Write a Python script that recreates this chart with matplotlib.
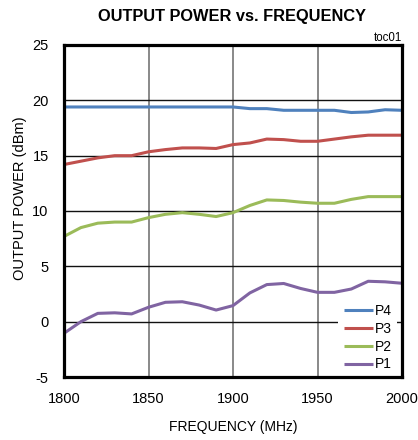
import matplotlib
matplotlib.use("Agg")
import matplotlib.pyplot as plt

freq = [1800, 1810, 1820, 1830, 1840, 1850, 1860, 1870, 1880, 1890, 1900,
        1910, 1920, 1930, 1940, 1950, 1960, 1970, 1980, 1990, 2000]
p4 = [19.4, 19.4, 19.4, 19.4, 19.4, 19.4, 19.4, 19.4, 19.4, 19.4, 19.4,
      19.25, 19.25, 19.1, 19.1, 19.1, 19.1, 18.9, 18.95, 19.15, 19.1]
p3 = [14.2, 14.5, 14.8, 15.0, 15.0, 15.35, 15.55, 15.7, 15.7, 15.65, 16.0,
      16.15, 16.5, 16.45, 16.3, 16.3, 16.5, 16.7, 16.85, 16.85, 16.85]
p2 = [7.7, 8.5, 8.9, 9.0, 9.0, 9.4, 9.7, 9.85, 9.7, 9.5, 9.85,
      10.5, 11.0, 10.95, 10.8, 10.7, 10.7, 11.05, 11.3, 11.3, 11.3]
p1 = [-1.05, 0.0, 0.75, 0.8, 0.7, 1.3, 1.75, 1.8, 1.5, 1.05, 1.45,
      2.6, 3.35, 3.45, 3.0, 2.65, 2.65, 2.95, 3.65, 3.6, 3.47]

series_names = ["P4", "P3", "P2", "P1"]
series_colors = ["#4F81BD", "#C0504D", "#9BBB59", "#8064A2"]
x_ticks = [1800, 1850, 1900, 1950, 2000]
y_ticks = [-5, 0, 5, 10, 15, 20, 25]

plt.rcParams["font.family"] = ["Liberation Sans", "DejaVu Sans"]
plt.rcParams["axes.unicode_minus"] = False

fig = plt.figure(figsize=(4.18, 4.40), dpi=100)
W, H = 418, 440
ax = fig.add_axes([64 / W, (H - 377) / H, (402 - 64) / W, (377 - 45) / H])

for name, col, vals in zip(series_names, series_colors, [p4, p3, p2, p1]):
    ax.plot(freq, vals, color=col, lw=2.2, label=name, solid_capstyle="butt", zorder=3)

ax.set_xlim(1800, 2000)
ax.set_ylim(-5, 25)
ax.set_xticks(x_ticks)
ax.set_yticks(y_ticks)
ax.tick_params(axis="both", length=0, labelsize=10.5)
ax.tick_params(axis="x", pad=11)
ax.tick_params(axis="y", pad=11)

ax.set_axisbelow(True)
ax.yaxis.grid(True, color="#111111", lw=1.0)
ax.xaxis.grid(True, color="#6a6a6a", lw=1.1)

for sp in ax.spines.values():
    sp.set_linewidth(2.3)
    sp.set_color("black")
    sp.set_zorder(6)

ax.set_xlabel("FREQUENCY (MHz)", fontsize=10, labelpad=10)
ax.set_ylabel("OUTPUT POWER (dBm)", fontsize=10.5)
ax.yaxis.set_label_coords((27 - 64) / 338, (377 - 198) / 332)

leg = ax.legend(loc="lower left", bbox_to_anchor=((338 - 64) / 338, 0.0),
                borderaxespad=0, borderpad=0.4, frameon=True, fancybox=False,
                fontsize=10, handlelength=2.1, handletextpad=0.15,
                labelspacing=0.27)
leg.get_frame().set_facecolor("white")
leg.get_frame().set_edgecolor("none")
leg.get_frame().set_alpha(1.0)
leg.set_zorder(5)

fig.text(231.7 / W, 1 - 16 / H, "OUTPUT POWER vs. FREQUENCY", ha="center",
         va="center", fontsize=11.8, fontweight="bold")
fig.text(402 / W, 1 - 38 / H, "toc01", ha="right", va="center", fontsize=8.3)

fig.savefig("out.png", dpi=100)
